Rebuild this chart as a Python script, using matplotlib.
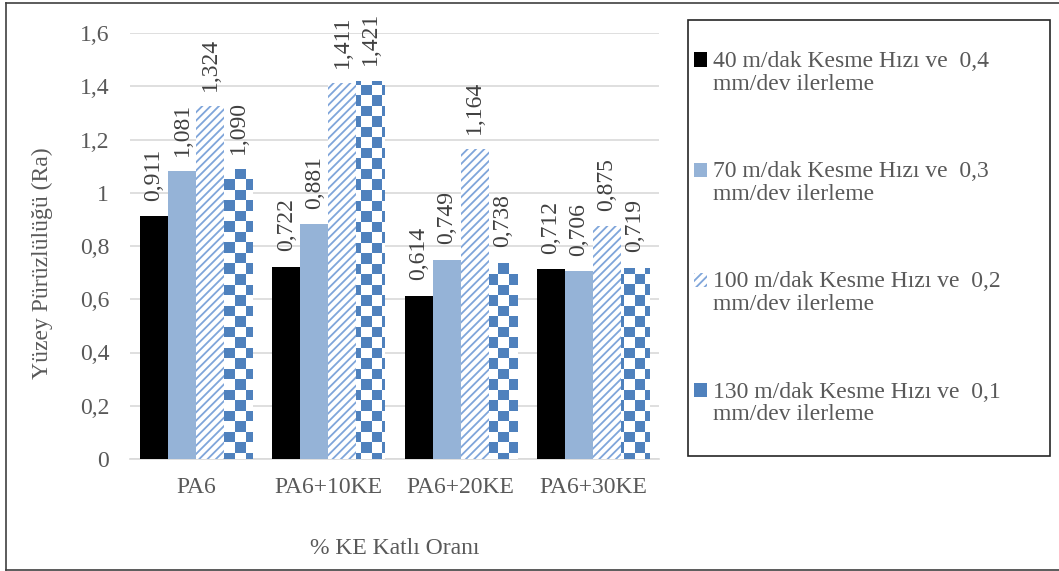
import matplotlib.pyplot as plt
import numpy as np
from matplotlib.colors import ListedColormap
from matplotlib.legend_handler import HandlerPatch
from matplotlib.patches import Patch, Rectangle
from matplotlib.lines import Line2D
from matplotlib.ticker import FuncFormatter

plt.rcParams['font.family'] = ['Liberation Serif', 'DejaVu Serif']
plt.rcParams['hatch.linewidth'] = 1.3

# Ölçüm verileri (Ra)
categories = ['PA6', 'PA6+10KE', 'PA6+20KE', 'PA6+30KE']
series_labels = [
    '40 m/dak Kesme Hızı ve  0,4\nmm/dev ilerleme',
    '70 m/dak Kesme Hızı ve  0,3\nmm/dev ilerleme',
    '100 m/dak Kesme Hızı ve  0,2\nmm/dev ilerleme',
    '130 m/dak Kesme Hızı ve  0,1\nmm/dev ilerleme',
]
v40 = [0.911, 0.722, 0.614, 0.712]
v70 = [1.081, 0.881, 0.749, 0.706]
v100 = [1.324, 1.411, 1.164, 0.875]
v130 = [1.090, 1.421, 0.738, 0.719]
yticks = [0, 0.2, 0.4, 0.6, 0.8, 1.0, 1.2, 1.4, 1.6]

text_col = '#595959'
grid_col = '#D9D9D9'
blue_light = '#95B3D7'
blue_hatch = '#7FA5DA'
blue_dark = '#4F81BD'
fs = 17

W, H = 1059, 571
fig = plt.figure(figsize=(W / 100, H / 100), dpi=100)
ax = fig.add_axes([130 / W, 1 - 459 / H, 529 / W, 426 / H])

x = np.arange(len(categories))
w = 0.212
b1 = ax.bar(x - 1.5 * w, v40, w, color='black', zorder=3)
b2 = ax.bar(x - 0.5 * w, v70, w, color=blue_light, zorder=3)
b3 = ax.bar(x + 0.5 * w, v100, w, facecolor='white', edgecolor=blue_hatch,
            hatch='////', linewidth=0, zorder=3)
b4 = ax.bar(x + 1.5 * w, v130, w, facecolor='none', linewidth=0, zorder=3)

# dama deseni: bar sınırlarına kırpılmış resim
sq = 10.5
ncols = int(np.ceil(529 / sq))
nrows = int(np.ceil(426 / sq))
checker = (np.add.outer(np.arange(nrows), np.arange(ncols)) % 2).astype(float)
cmap = ListedColormap(['white', blue_dark])
for bar in b4:
    im = ax.imshow(checker, cmap=cmap, interpolation='nearest', aspect='auto',
                   extent=(-0.5, -0.5 + ncols * sq / 529 * 4, 1.6 - nrows * sq / 426 * 1.6, 1.6),
                   zorder=3)
    im.set_clip_path(bar)
ax.set_xlim(-0.5, len(categories) - 0.5)
ax.set_ylim(0, 1.6)
ax.set_aspect('auto')

# değer etiketleri
for bars, vals in [(b1, v40), (b2, v70), (b3, v100), (b4, v130)]:
    for bar, v in zip(bars, vals):
        ax.annotate(f'{v:.3f}'.replace('.', ','),
                    (bar.get_x() + bar.get_width() / 2, v),
                    xytext=(0, 11), textcoords='offset points',
                    rotation=90, ha='center', va='bottom',
                    fontsize=fs, color='#404040')

ax.set_xticks(x)
ax.set_xticklabels(categories)
ax.set_yticks(yticks)
ax.yaxis.set_major_formatter(FuncFormatter(lambda v, p: f'{v:g}'.replace('.', ',')))
ax.tick_params(length=0, labelsize=fs, labelcolor=text_col)
ax.tick_params(axis='x', pad=13)
ax.tick_params(axis='y', pad=15)
ax.grid(axis='y', color=grid_col, linewidth=1.2, zorder=0)
ax.set_axisbelow(True)
for s in ['top', 'right', 'left']:
    ax.spines[s].set_visible(False)
ax.spines['bottom'].set_color(grid_col)
ax.spines['bottom'].set_linewidth(1.2)

ax.set_ylabel('Yüzey Pürüzlülüğü (Ra)', fontsize=fs, color=text_col, labelpad=19)
ax.yaxis.label.set_y(0.46)
ax.set_xlabel('% KE Katlı Oranı', fontsize=fs, color=text_col, labelpad=29)


# legend kutusu: işaret ilk satır hizasında
class TopHandler(HandlerPatch):
    def create_artists(self, legend, orig_handle, xdescent, ydescent,
                       width, height, fontsize, trans):
        return super().create_artists(legend, orig_handle, xdescent,
                                      ydescent - 0.55 * fontsize, width, height,
                                      fontsize, trans)


handles = [
    Patch(facecolor='black'),
    Patch(facecolor=blue_light),
    Patch(facecolor='white', edgecolor=blue_hatch, hatch='////', linewidth=0),
    Patch(facecolor=blue_dark),
]
fig.patches.append(Rectangle((688 / W, 1 - 456 / H), 362 / W, 436 / H,
                             transform=fig.transFigure, facecolor='none',
                             edgecolor='#262626', linewidth=1.2))
leg = fig.legend(handles, series_labels, loc='upper left',
                 bbox_to_anchor=(694 / W, 1 - 51 / H), frameon=False,
                 fontsize=fs, labelcolor=text_col, handlelength=0.55,
                 handleheight=0.55, handletextpad=0.25, labelspacing=2.82,
                 borderaxespad=0, borderpad=0,
                 handler_map={Patch: TopHandler()})
for t in leg.get_texts():
    t.set_linespacing(1.1)

# dış çerçeve
fig.add_artist(Line2D([6 / W, 6 / W], [1 - 570 / H, 1 - 3 / H], color='#404040', lw=1.2,
                      transform=fig.transFigure))
fig.add_artist(Line2D([6 / W, 1], [1 - 3 / H, 1 - 3 / H], color='#404040', lw=1.2,
                      transform=fig.transFigure))
fig.add_artist(Line2D([6 / W, 1], [1 - 570 / H, 1 - 570 / H], color='#404040', lw=1.2,
                      transform=fig.transFigure))

fig.savefig('out.png', dpi=100)
